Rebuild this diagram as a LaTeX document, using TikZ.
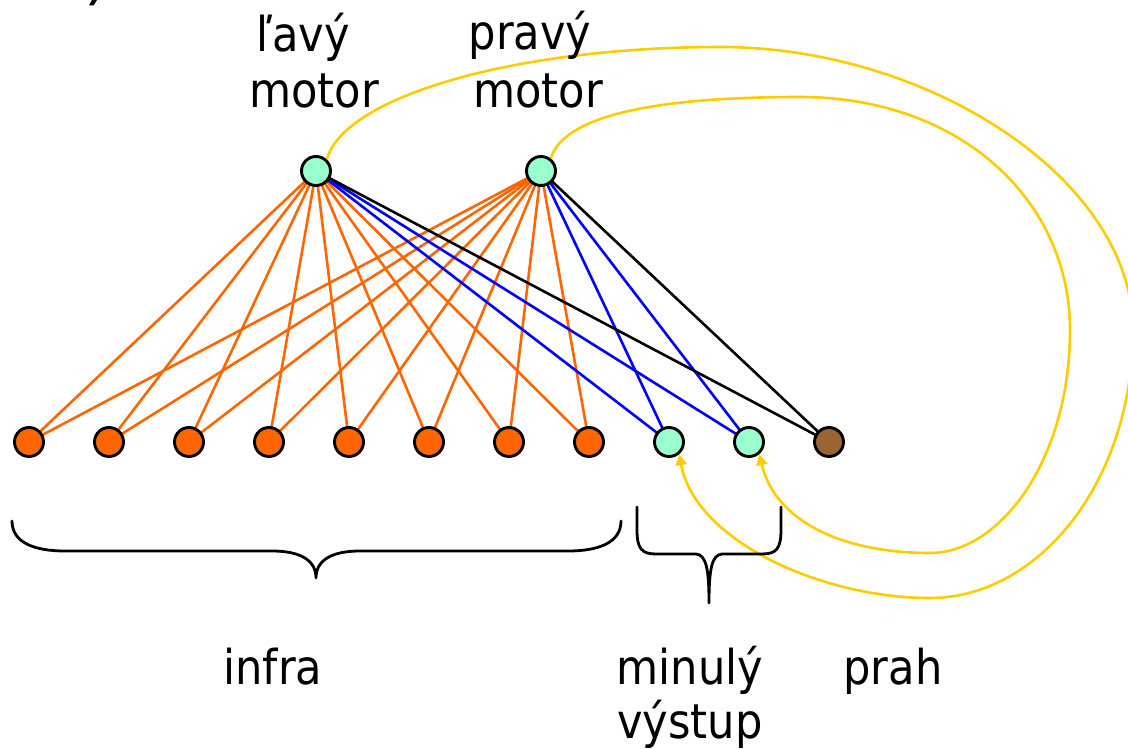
\documentclass[tikz,border=0pt]{standalone}
\usepackage{fontspec}
\setmainfont{DejaVu Sans Condensed}
\usetikzlibrary{arrows.meta,backgrounds}

\definecolor{infraorange}{HTML}{FF6600}
\definecolor{mint}{HTML}{99FFCC}
\definecolor{thresh}{HTML}{996633}
\definecolor{wireblue}{HTML}{0000FF}
\definecolor{loopyellow}{HTML}{FFCC00}

\begin{document}
\begin{tikzpicture}[x=1pt,y=-1pt,
  neuron/.style={circle, draw=black, line width=2.9pt, minimum size=29pt, inner sep=0pt},
  sensor/.style={neuron, fill=infraorange},
  motorn/.style={neuron, fill=mint},
  biasn/.style={neuron, fill=thresh},
  oedge/.style={draw=infraorange, line width=2.6pt},
  bedge/.style={draw=wireblue, line width=2.6pt},
  kedge/.style={draw=black, line width=2.6pt},
  feedback/.style={draw=loopyellow, line width=2.6pt,
    -{Triangle[length=11pt,width=11pt]}},
  bracestroke/.style={draw=black, line width=2.8pt, line cap=round, line join=round},
  lbl/.style={font=\fontsize{48}{58}\selectfont, inner sep=0pt, anchor=base}
]
\useasboundingbox (0,0) rectangle (1128,749);

% fragment of a line of text above the picture
\fill (89,5.5) -- (93.5,5.5) -- (97,0) -- (92,0) -- cycle;

% output neurons
\node[motorn] (lm) at (316,171) {};
\node[motorn] (rm) at (541,171) {};

% input layer: infrared sensors, past outputs, threshold
\foreach \i in {1,...,8}
  \node[sensor] (s\i) at ({29+80*(\i-1)},442) {};
\node[motorn] (p1) at (669,442) {};
\node[motorn] (p2) at (749,442) {};
\node[biasn]  (th) at (829,442) {};

% weighted connections
\begin{scope}[on background layer]
  \foreach \m in {lm,rm} {
    \foreach \i in {1,...,8}
      \draw[oedge] (\m.center) -- (s\i.center);
  }
  \foreach \m in {lm,rm} {
    \draw[bedge] (\m.center) -- (p1.center);
    \draw[bedge] (\m.center) -- (p2.center);
  }
  \foreach \m in {lm,rm}
    \draw[kedge] (\m.center) -- (th.center);
\end{scope}

% recurrent links from the motors back to the past-output inputs
\draw[feedback] (lm.47)
  .. controls (345,95) and (520,47) .. (720,47)
  .. controls (930,47) and (1133,180) .. (1133,330)
  .. controls (1133,480) and (1040,598) .. (930,598)
  .. controls (820,598) and (695,540) .. (p1.-50);
\draw[feedback] (rm.52)
  .. controls (565,112) and (670,97) .. (800,97)
  .. controls (960,97) and (1070,200) .. (1070,330)
  .. controls (1070,460) and (1000,553) .. (930,553)
  .. controls (840,553) and (775,520) .. (p2.-50);

% braces grouping the inputs
\coordinate (ba) at (12,521);
\coordinate (bb) at (621,521);
\coordinate (btip) at (316,578);
\draw[bracestroke] (ba) .. controls (12,543) and (35,551) .. (65,551)
  -- (272,551) .. controls (300,551) and (316,560) .. (btip)
  .. controls (316,560) and (332,551) .. (360,551)
  -- (568,551) .. controls (598,551) and (621,543) .. (bb);

\coordinate (ca) at (637,507);
\coordinate (cb) at (781,507);
\coordinate (ctip) at (709,603);
\draw[bracestroke] (ca) -- (637,530) .. controls (637,549) and (642,554) .. (656,554)
  -- (696,554) .. controls (706,555) and (709,568) .. (ctip)
  .. controls (709,568) and (712,555) .. (722,554)
  -- (762,554) .. controls (776,554) and (781,549) .. (781,530) -- (cb);

% labels
\node[lbl] (t1) at (303,52) {ľavý};
\node[lbl] (t2) at (314,108) {motor};
\node[lbl] (t3) at (530,50) {pravý};
\node[lbl] (t4) at (538,108) {motor};
\node[lbl] (t5) at (273,684) {infra};
\node[lbl] (t6) at (690,684) {minulý};
\node[lbl] (t7) at (690,738) {výstup};
\node[lbl] (t8) at (893,684) {prah};
\end{tikzpicture}
\end{document}
